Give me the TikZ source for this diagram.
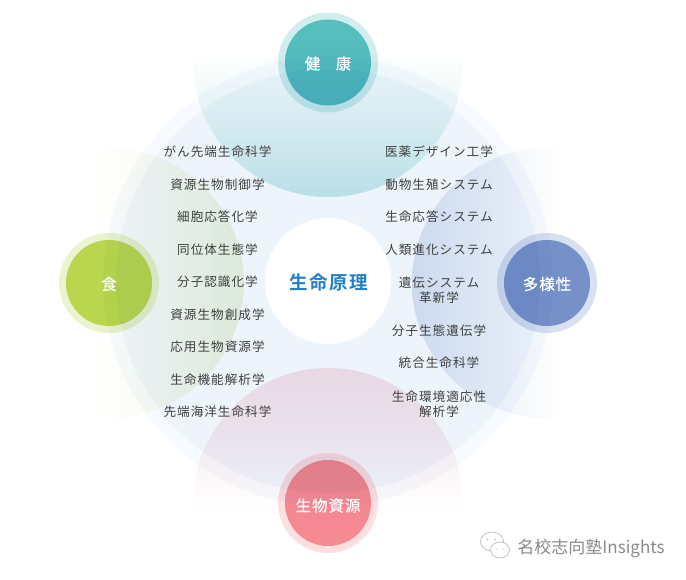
\documentclass[tikz,border=0pt]{standalone}
\usepackage{fontspec}
\newfontfamily\jp[LetterSpace=8]{Noto Sans CJK JP}
\newfontfamily\jpw[LetterSpace=6,FakeBold=0.3]{Noto Sans CJK JP}
\newfontfamily\jpb[LetterSpace=8]{Noto Sans CJK JP Bold}
\newfontfamily\cn{Noto Sans CJK SC}
\usetikzlibrary{shadings}
\definecolor{txt}{HTML}{3F3F3F}
\definecolor{pT}{HTML}{C8EAEA}\definecolor{pTm}{HTML}{E8F6F5}
\definecolor{pL}{HTML}{EEF4DC}\definecolor{pLm}{HTML}{F8FAEE}
\definecolor{pR}{HTML}{DCE5F1}\definecolor{pRm}{HTML}{EEF2F8}
\definecolor{pB}{HTML}{FBE3E6}\definecolor{pBm}{HTML}{FBEEEF}
\definecolor{hT}{HTML}{57C0BE}\definecolor{hTb}{HTML}{4EB5BC}
\definecolor{hL}{HTML}{BAD64F}\definecolor{hR}{HTML}{7690C8}
\definecolor{hB}{HTML}{F4858E}\definecolor{hBb}{HTML}{F58B93}
\definecolor{dO}{HTML}{F7FAFE}\definecolor{dI}{HTML}{F5F9FD}
\definecolor{coreblue}{HTML}{2480C6}
\definecolor{wmk}{HTML}{8A8A8A}\definecolor{wmi}{HTML}{B4B4B4}
\tikzset{
  item/.style={font=\jp\fontsize{12.6}{15}\selectfont,text=txt,align=center,inner sep=0pt},
  hub/.style={circle,minimum size=86pt,inner sep=0pt},
  halo/.style={circle,minimum size=100pt,inner sep=0pt,opacity=.27},
  hubtext/.style={text=white,font=\jpw\fontsize{15.5}{18}\selectfont},
}
\begin{document}
\begin{tikzpicture}[x=1pt,y=-1pt]
\useasboundingbox (0,0) rectangle (686,579);
\fill[white] (0,0) rectangle (686,579);
% petals: gradient fills
\begin{scope}\clip (328,62) circle (135);
  \shade[bottom color=pT,top color=white,middle color=pTm] (190,48) rectangle (466,198);
\end{scope}
\begin{scope}\clip (109,283) circle (135);
  \shade[left color=white,right color=pL,middle color=pLm] (92,146) rectangle (246,420);
\end{scope}
\begin{scope}\clip (547,283) circle (135);
  \shade[right color=white,left color=pR,middle color=pRm] (410,146) rectangle (562,420);
\end{scope}
\begin{scope}\clip (328,503) circle (135);
  \shade[top color=pB,bottom color=white,middle color=pBm] (190,366) rectangle (466,510);
\end{scope}
% hubs
\node[halo,fill=hT] (haloT) at (328,62.5) {};
\node[halo,fill=hL] (haloL) at (109,283) {};
\node[halo,fill=hR] (haloR) at (547,283) {};
\node[halo,fill=hBb] (haloB) at (328,503) {};
\node[hub,top color=hT,bottom color=hTb] (hubT) at (328,62.5) {};
\node[hub,fill=hL] (hubL) at (109,283) {};
\node[hub,fill=hR] (hubR) at (547,283) {};
\node[hub,top color=hB,bottom color=hBb] (hubB) at (328,503) {};
% big disc, multiplied over everything below
\begin{scope}[blend mode=multiply]
  \fill[dO] (328,281) circle (225);
  \fill[dI] (328,281) circle (212);
\end{scope}
\node[circle,fill=white,minimum size=126pt,inner sep=0pt] (core) at (328,281) {};
\node[text=coreblue,font=\jpb\fontsize{18.5}{20}\selectfont] (coreT) at (328.5,282.5) {生命原理};
% hub labels
\node[hubtext] (tT) at (328,63.5) {健\hspace{1em}康};
\node[hubtext] (tL) at (109,284) {食};
\node[hubtext] (tR) at (547,284) {多様性};
\node[hubtext] (tB) at (328,505.5) {生物資源};
% left column
\node[item] (l1) at (217.5,152) {がん先端生命科学};
\node[item] (l2) at (217.5,185) {資源生物制御学};
\node[item] (l3) at (217.5,217) {細胞応答化学};
\node[item] (l4) at (217.5,250) {同位体生態学};
\node[item] (l5) at (217.5,282) {分子認識化学};
\node[item] (l6) at (217.5,315) {資源生物創成学};
\node[item] (l7) at (217.5,347) {応用生物資源学};
\node[item] (l8) at (217.5,380) {生命機能解析学};
\node[item] (l9) at (217.5,412) {先端海洋生命科学};
% right column
\node[item] (r1) at (439,152) {医薬デザイン工学};
\node[item] (r2) at (439,185) {動物生殖システム};
\node[item] (r3) at (439,217) {生命応答システム};
\node[item] (r4) at (439,250) {人類進化システム};
\node[item] (r5) at (439,290) {遺伝システム\\革新学};
\node[item] (r6) at (439,331) {分子生態遺伝学};
\node[item] (r7) at (439,363) {統合生命科学};
\node[item] (r8) at (439,404) {生命環境適応性\\解析学};
% watermark
\begin{scope}[draw=wmi,line width=.6pt]
  \draw (492,541.5) ellipse (11.5 and 9.5);
  \fill[white] (500,550) ellipse (9.5 and 8);
  \draw (500,550) ellipse (9.5 and 8);
  \fill[wmi] (487.5,539.5) circle (.8) (495,539.5) circle (.8) (497,549) circle (.7) (503,549) circle (.7);
\end{scope}
\node[text=wmk,font=\cn\fontsize{17}{20}\selectfont,inner sep=0pt] (mark) at (591,548) {名校志向塾Insights};
\end{tikzpicture}
\end{document}
